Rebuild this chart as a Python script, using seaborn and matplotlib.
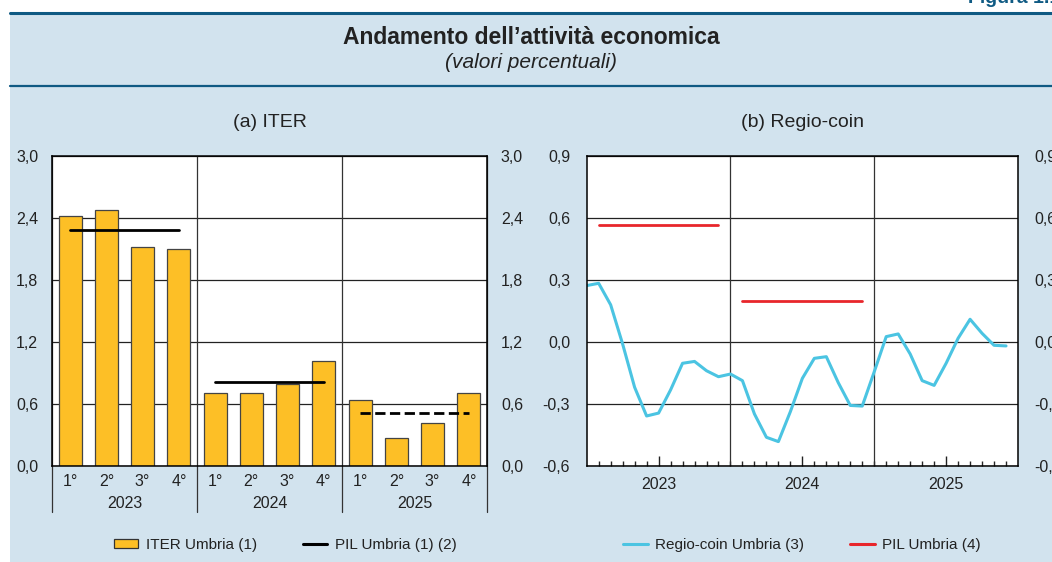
import numpy as np
import pandas as pd
import matplotlib
matplotlib.use("Agg")
import matplotlib.pyplot as plt
import seaborn as sns
from matplotlib.patches import Rectangle, Patch
from matplotlib.lines import Line2D
from matplotlib.ticker import FuncFormatter, MultipleLocator

# Data
years = ["2023", "2024", "2025"]
quarters = ["1°", "2°", "3°", "4°"]
iter_umbria = [2.42, 2.48, 2.12, 2.10,
               0.71, 0.71, 0.79, 1.02,
               0.64, 0.27, 0.42, 0.71]
pil_iter = [2.28, 0.81, 0.51]          # 2025 is an estimate (dashed)
regio_coin = [0.273, 0.284, 0.18, -0.01, -0.219, -0.358, -0.344, -0.232, -0.103, -0.094, -0.139, -0.168,
              -0.155, -0.187, -0.348, -0.461, -0.482, -0.337, -0.176, -0.079, -0.071, -0.197, -0.307, -0.31,
              -0.144, 0.026, 0.039, -0.058, -0.187, -0.21, -0.103, 0.018, 0.11, 0.042, -0.016, -0.019]
pil_regio = [0.565, 0.20]               # annual PIL, 2023 and 2024

BG = "#D2E3EE"
DARK = "#0F5A83"
YELLOW = "#FDBF26"
CYAN = "#4BC4E2"
RED = "#E8262B"
TXT = "#222222"

sns.set_style("white")
plt.rcParams["font.family"] = ["Liberation Sans", "DejaVu Sans"]
plt.rcParams["axes.unicode_minus"] = False

W, H = 1052, 562
fig = plt.figure(figsize=(W / 100, H / 100), dpi=100, facecolor="white")

# background panel and header rules
fig.patches.append(Rectangle((10 / W, 0), 1 - 10 / W, 1 - 12 / H, transform=fig.transFigure,
                             facecolor=BG, edgecolor="none", zorder=-10))
fig.add_artist(Line2D([10 / W, 1], [1 - 12.5 / H] * 2, transform=fig.transFigure, color=DARK, lw=2.2))
fig.add_artist(Line2D([10 / W, 1], [1 - 85.5 / H] * 2, transform=fig.transFigure, color=DARK, lw=1.6))
fig.text(968 / W, 1 - 3 / H, "Figura 1.1", color=DARK, fontsize=14, fontweight="bold", va="baseline")
fig.text(0.5 + 10 / W / 2, 1 - 37 / H, "Andamento dell’attività economica", ha="center", va="center",
         fontsize=16.5, fontweight="bold", color=TXT)
fig.text(0.5 + 10 / W / 2, 1 - 63 / H, "(valori percentuali)", ha="center", va="center",
         fontsize=15, style="italic", color=TXT)

comma = FuncFormatter(lambda v, p: f"{v:.1f}".replace(".", ","))

# (a) ITER
ax1 = fig.add_axes([52 / W, 1 - 466 / H, 435 / W, 310 / H])
df = pd.DataFrame({"year": np.repeat(years, 4), "q": quarters * 3, "iter": iter_umbria})
df["period"] = df["year"] + " " + df["q"]
sns.barplot(data=df, x="period", y="iter", color=YELLOW, width=0.63, edgecolor="#444444",
            linewidth=0.9, saturation=1, ax=ax1, zorder=3)
for k, v in enumerate(pil_iter):
    idx = np.arange(k * 4, k * 4 + 4)
    ax1.plot(idx, [v] * 4, color="black", lw=2, ls="--" if k == 2 else "-", zorder=4)
ax1.set_xlim(-0.5, len(iter_umbria) - 0.5)
ax1.set_ylim(0, 3.0)
ax1.yaxis.set_major_locator(MultipleLocator(0.6))
ax1.yaxis.set_major_formatter(comma)
ax1.grid(axis="y", color="#222222", lw=0.9, zorder=0)
ax1.set_xticks(range(len(df)))
ax1.set_xticklabels(df["q"])
ax1.tick_params(axis="x", length=0, pad=6, labelsize=11.5, colors=TXT)
ax1.tick_params(axis="y", length=0, pad=10, labelsize=11.5, labelleft=True, labelright=True, colors=TXT)
ax1.set_xlabel("")
ax1.set_ylabel("")
for k, y in enumerate(years):
    ax1.text(k * 4 + 1.5, -0.122, y, transform=ax1.get_xaxis_transform(), ha="center", va="center",
             fontsize=11.5, color=TXT)
for b in np.arange(-0.5, len(iter_umbria), 4):
    ax1.axvline(b, ymin=-0.148, ymax=1, color="#333333", lw=0.9, clip_on=False, zorder=2)
ax1.set_title("(a) ITER", fontsize=14, color=TXT, pad=21)

# (b) Regio-coin
ax2 = fig.add_axes([586.7 / W, 1 - 466 / H, 431.3 / W, 310 / H])
months = np.arange(len(regio_coin))
sns.lineplot(x=months, y=regio_coin, color=CYAN, lw=2.2, ax=ax2, zorder=4)
for k, v in enumerate(pil_regio):
    m = np.arange(k * 12 + 1, k * 12 + 12)
    sns.lineplot(x=m, y=[v] * len(m), color=RED, lw=2, ax=ax2, zorder=4)
ax2.set_xlim(0, len(regio_coin))
ax2.set_ylim(-0.6, 0.9)
ax2.yaxis.set_major_locator(MultipleLocator(0.3))
ax2.yaxis.set_major_formatter(comma)
ax2.grid(axis="y", color="#222222", lw=0.9, zorder=0)
for b in (12, 24):
    ax2.axvline(b, color="#333333", lw=0.9, zorder=1)
ax2.set_xticks(np.arange(6, 36, 12))
ax2.set_xticklabels(years)
ax2.set_xticks(np.arange(1, 36), minor=True)
ax2.tick_params(axis="x", which="major", direction="in", length=7, width=1, pad=8, labelsize=11.5,
                colors=TXT, bottom=True)
ax2.tick_params(axis="x", which="minor", direction="in", length=3.5, width=1, bottom=True)
ax2.tick_params(axis="y", length=0, pad=12, labelsize=11.5, labelleft=True, labelright=True, colors=TXT)
ax2.set_title("(b) Regio-coin", fontsize=14, color=TXT, pad=21)

for ax in (ax1, ax2):
    ax.set_facecolor("white")
    for s in ax.spines.values():
        s.set_color("black")
        s.set_linewidth(1.1)
        s.set_zorder(5)

# legends
h1 = [Patch(facecolor=YELLOW, edgecolor="#333333", lw=0.9),
      Line2D([], [], color="black", lw=2.2)]
fig.legend(h1, ["ITER Umbria (1)", "PIL Umbria (1) (2)"], loc="center", ncol=2, frameon=False,
           bbox_to_anchor=(285 / W, 1 - 545 / H), fontsize=11, handlelength=1.6, handleheight=0.6,
           handletextpad=0.5, columnspacing=3.0, labelcolor=TXT)
h2 = [Line2D([], [], color=CYAN, lw=2.2), Line2D([], [], color=RED, lw=2.2)]
fig.legend(h2, ["Regio-coin Umbria (3)", "PIL Umbria (4)"], loc="center", ncol=2, frameon=False,
           bbox_to_anchor=(802 / W, 1 - 545 / H), fontsize=11, handlelength=1.6,
           handletextpad=0.5, columnspacing=3.0, labelcolor=TXT)

fig.savefig("out.png", dpi=100, facecolor="white")
